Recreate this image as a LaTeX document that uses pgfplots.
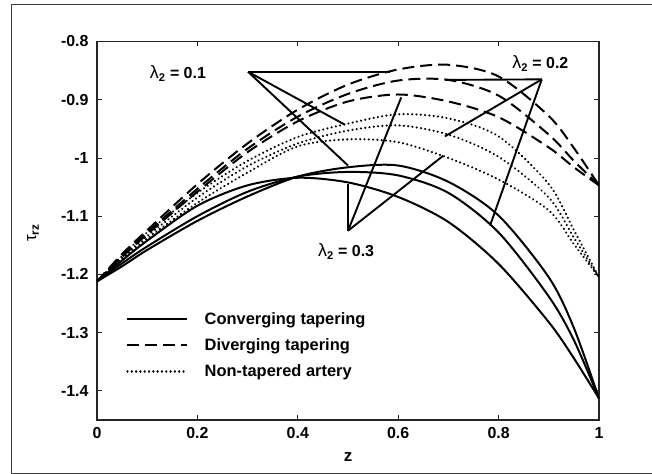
\documentclass[border=0pt]{standalone}
\usepackage{fontspec}
\setmainfont{Liberation Sans}
\usepackage{pgfplots}
\usepackage{pgfplotstable}
\pgfplotsset{compat=1.18}

% Converging tapering (solid)
\pgfplotstableread{
z     a      b      c
0     -1.212 -1.212 -1.212
0.05  -1.176 -1.181 -1.186
0.1   -1.142 -1.152 -1.158
0.2   -1.082 -1.100 -1.108
0.3   -1.047 -1.058 -1.066
0.4   -1.034 -1.032 -1.032
0.5   -1.042 -1.024 -1.016
0.6   -1.067 -1.030 -1.013
0.7   -1.110 -1.060 -1.041
0.8   -1.182 -1.128 -1.099
0.9   -1.282 -1.238 -1.205
0.95  -1.344 -1.313 -1.292
1     -1.413 -1.413 -1.413
}\solidtab

% Diverging tapering (dashed)
\pgfplotstableread{
z     a      b      c
0     -1.212 -1.212 -1.212
0.05  -1.170 -1.168 -1.165
0.1   -1.131 -1.128 -1.124
0.2   -1.058 -1.053 -1.045
0.3   -0.990 -0.984 -0.975
0.4   -0.937 -0.929 -0.917
0.5   -0.903 -0.890 -0.874
0.6   -0.891 -0.867 -0.848
0.7   -0.903 -0.866 -0.840
0.8   -0.930 -0.893 -0.860
0.9   -0.982 -0.960 -0.928
0.95  -1.016 -1.005 -0.983
1     -1.047 -1.047 -1.047
}\dashtab

% Non-tapered artery (dotted)
\pgfplotstableread{
z     a      b      c
0     -1.212 -1.212 -1.212
0.05  -1.174 -1.172 -1.168
0.1   -1.138 -1.134 -1.128
0.2   -1.077 -1.068 -1.060
0.3   -1.025 -1.014 -1.005
0.4   -0.980 -0.975 -0.964
0.5   -0.968 -0.953 -0.941
0.6   -0.973 -0.944 -0.925
0.7   -1.000 -0.960 -0.932
0.8   -1.037 -0.998 -0.963
0.9   -1.090 -1.068 -1.045
0.95  -1.148 -1.137 -1.124
1     -1.205 -1.205 -1.205
}\dottab

\begin{document}
\begin{tikzpicture}
\useasboundingbox (-97bp,-54bp) rectangle (555bp,420bp);
\draw[line width=0.9pt, black!75] (560bp,416bp) -- (-86bp,416bp) -- (-86bp,-53bp) -- (560bp,-53bp);
\begin{axis}[
  at={(0,0)}, anchor=south west, scale only axis,
  width=502bp, height=378.5bp,
  xmin=0, xmax=1, ymin=-1.45, ymax=-0.8,
  xtick={0,0.2,0.4,0.6,0.8,1},
  ytick={-1.4,-1.3,-1.2,-1.1,-1,-0.9,-0.8},
  tick align=inside, major tick length=5bp,
  xtick pos=both, ytick pos=both,
  axis line style={line width=1.1pt, black!85},
  tick style={line width=0.9pt, black!85},
  /pgf/number format/assume math mode=true,
  ticklabel style={font=\bfseries\fontsize{16}{18}\selectfont},
  xticklabel style={yshift=-4bp},
  yticklabel style={xshift=-5bp},
  xlabel={z},
  xlabel style={font=\bfseries\fontsize{17}{19}\selectfont, at={(axis description cs:0.5,-0.098)}, anchor=center},
  ylabel={τ\textsubscript{\textbf{rz}}},
  ylabel style={font=\fontsize{17}{19}\selectfont, at={(axis description cs:-0.1275,0.494)}, anchor=center},
  legend style={draw=none, fill=none, at={(axis description cs:0.052,0.296)}, anchor=north west,
    font=\bfseries\fontsize{16.5}{18}\selectfont, row sep=9bp,
    /tikz/every odd column/.append style={column sep=14bp}},
  legend cell align=left,
  legend image code/.code={\draw[#1] (0bp,0bp) -- (60bp,0bp);},
  solidst/.style={black, line width=2pt, smooth},
  dashst/.style={black, line width=2pt, smooth, dash pattern=on 12bp off 6bp},
  dotst/.style={black, line width=2.4pt, smooth, line cap=round, dash pattern=on 0.01bp off 4.3bp},
]
\addplot[solidst] table[x=z,y=a] {\solidtab};
\addlegendentry{Converging tapering}
\addplot[dashst] table[x=z,y=a] {\dashtab};
\addlegendentry{Diverging tapering}
\addplot[dotst] table[x=z,y=a] {\dottab};
\addlegendentry{Non-tapered artery}
\addplot[solidst, forget plot] table[x=z,y=b] {\solidtab};
\addplot[solidst, forget plot] table[x=z,y=c] {\solidtab};
\addplot[dashst, forget plot] table[x=z,y=b] {\dashtab};
\addplot[dashst, forget plot] table[x=z,y=c] {\dashtab};
\addplot[dotst, forget plot] table[x=z,y=b] {\dottab};
\addplot[dotst, forget plot] table[x=z,y=c] {\dottab};

% pointer lines
\draw[line width=1.9pt] (axis cs:0.301,-0.852) -- (axis cs:0.584,-0.852);
\draw[line width=1.9pt] (axis cs:0.301,-0.852) -- (axis cs:0.494,-0.943);
\draw[line width=1.9pt] (axis cs:0.301,-0.852) -- (axis cs:0.5,-1.013);
\draw[line width=1.9pt] (axis cs:0.886,-0.865) -- (axis cs:0.693,-0.866);
\draw[line width=1.9pt] (axis cs:0.886,-0.865) -- (axis cs:0.693,-0.963);
\draw[line width=1.9pt] (axis cs:0.886,-0.865) -- (axis cs:0.783,-1.116);
\draw[line width=1.9pt] (axis cs:0.5,-1.125) -- (axis cs:0.5,-1.044);
\draw[line width=1.9pt] (axis cs:0.5,-1.125) -- (axis cs:0.606,-0.896);
\draw[line width=1.9pt] (axis cs:0.5,-1.125) -- (axis cs:0.69,-0.996);

\node[anchor=base west, inner sep=0pt, font=\bfseries\fontsize{16}{18}\selectfont] at (axis cs:0.105,-0.864) {{\mdseries\fontsize{18}{20}\selectfont λ}\textsubscript{2} = 0.1};
\node[anchor=base west, inner sep=0pt, font=\bfseries\fontsize{16}{18}\selectfont] at (axis cs:0.827,-0.847) {{\mdseries\fontsize{18}{20}\selectfont λ}\textsubscript{2} = 0.2};
\node[anchor=base west, inner sep=0pt, font=\bfseries\fontsize{16}{18}\selectfont] at (axis cs:0.440,-1.170) {{\mdseries\fontsize{18}{20}\selectfont λ}\textsubscript{2} = 0.3};
\end{axis}
\end{tikzpicture}
\end{document}
